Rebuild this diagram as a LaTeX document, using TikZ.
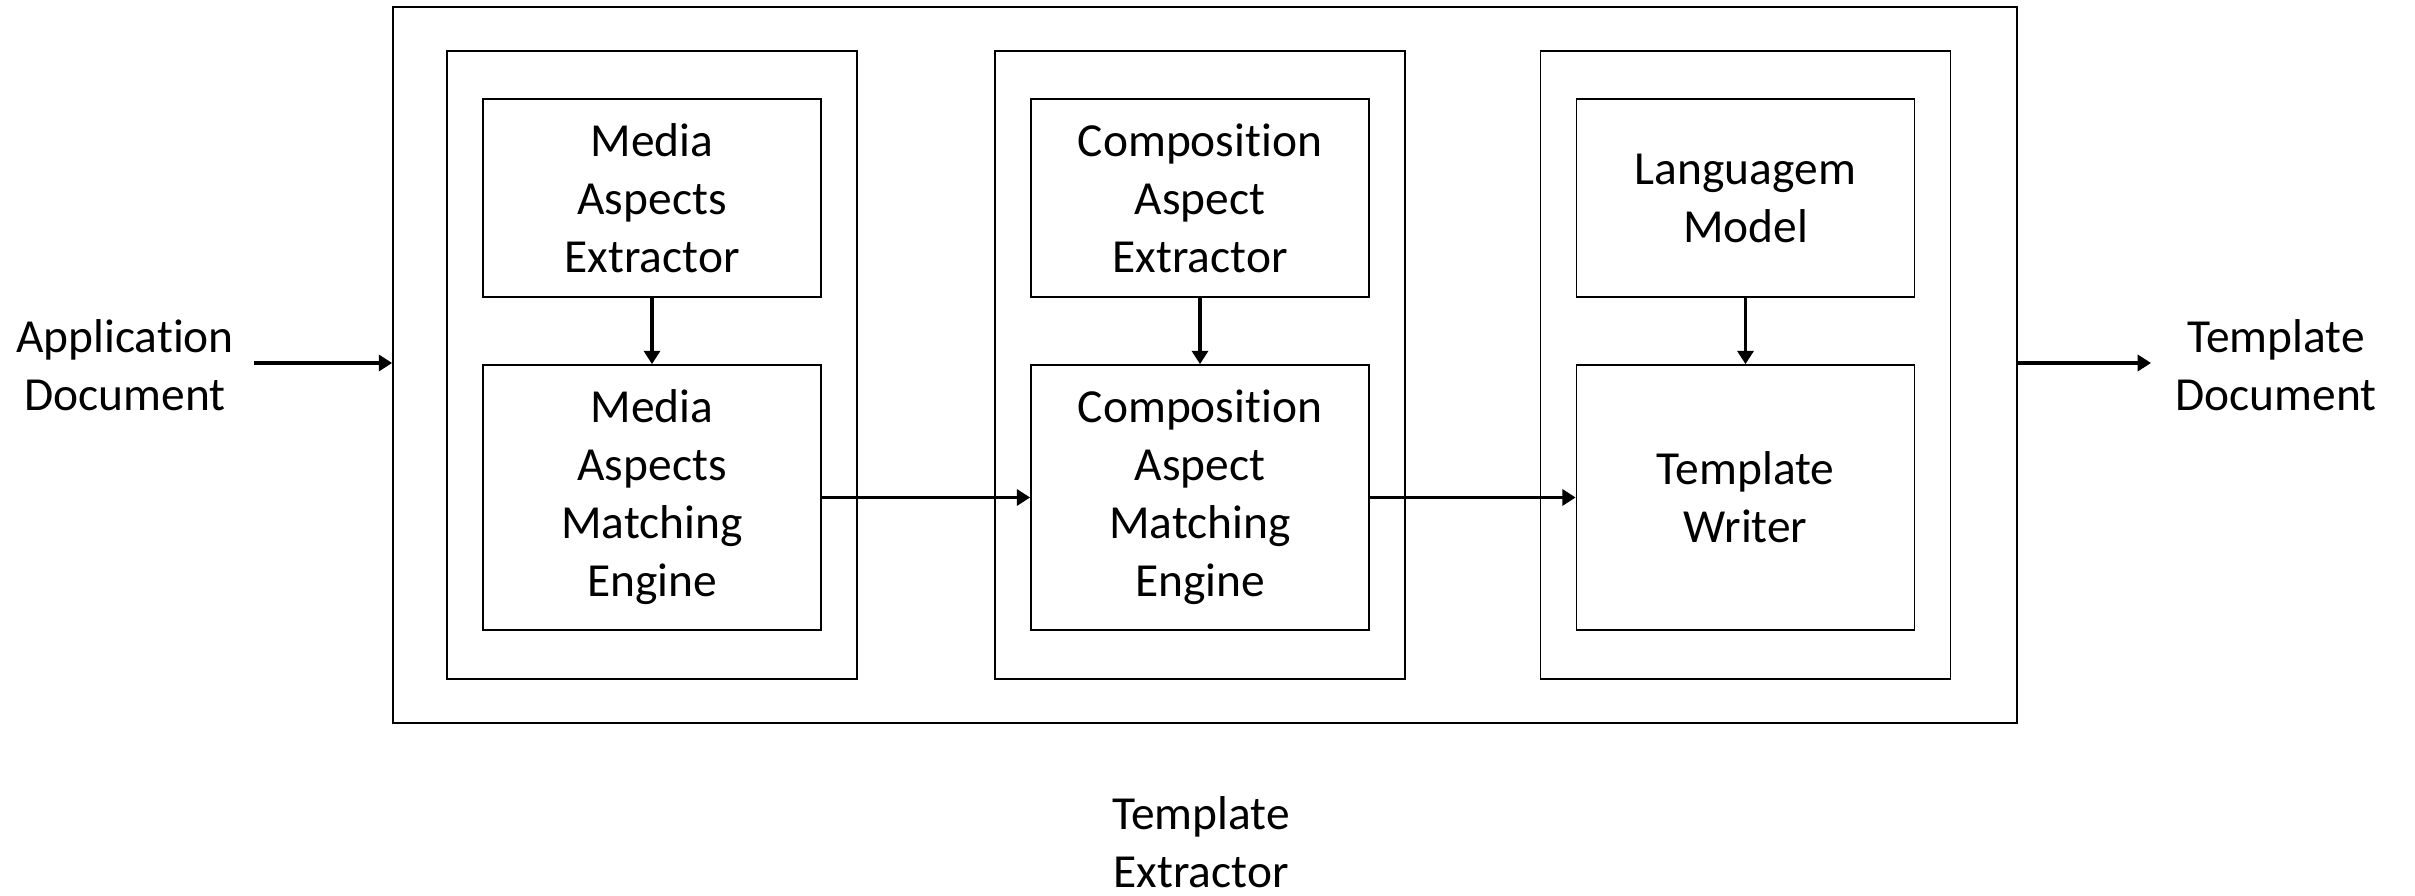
\documentclass[tikz,border=0pt]{standalone}
\usepackage{fontspec}
\setmainfont{Carlito}[Ligatures=NoCommon]
\usetikzlibrary{arrows.meta}

\tikzset{
  frame/.style={draw, line width=0.5pt, inner sep=0pt},
  topbox/.style={frame, minimum width=3.38cm, minimum height=1.98cm, align=center},
  botbox/.style={frame, minimum width=3.38cm, minimum height=2.65cm, align=center},
  colbox/.style={frame, minimum width=4.1cm, minimum height=6.28cm},
  flow/.style={line width=0.9pt, -{Triangle[length=3.8pt, width=4.6pt]}},
  label/.style={align=center, inner sep=0pt}
}

\begin{document}
\begin{tikzpicture}[x=1cm, y=1cm]
      \fontsize{13.5}{16.5}\selectfont

      \useasboundingbox (0,0) rectangle (24.15,-8.96);

      \node[frame, minimum width=16.24cm, minimum height=7.16cm] (extractor) at (12.05,-3.65) {};

      \node[colbox] (col1) at (6.52,-3.65) {};
      \node[colbox] (col2) at (12.00,-3.65) {};
      \node[colbox] (col3) at (17.455,-3.65) {};

      \node[topbox] (mediaext) at (6.52,-1.98) {Media\\Aspects\\Extractor};
      \node[botbox] (mediamatch) at (6.52,-4.975) {Media\\Aspects\\Matching\\Engine};

      \node[topbox] (compext) at (12.00,-1.98) {Composition\\Aspect\\Extractor};
      \node[botbox] (compmatch) at (12.00,-4.975) {Composition\\Aspect\\Matching\\Engine};

      \node[topbox] (langmodel) at (17.455,-1.98) {Languagem\\Model};
      \node[botbox] (writer) at (17.455,-4.975) {Template\\Writer};

      \node[label] (appdoc) at (1.25,-3.65) {Application\\Document};
      \node[label] (tpldoc) at (22.76,-3.65) {Template\\Document};
      \node[label] (tplext) at (12.01,-8.42) {Template\\Extractor};

      \coordinate (inbegin) at (2.54,-3.63);
      \coordinate (outend) at (21.51,-3.63);

      \draw[flow] (inbegin) -- (inbegin -| extractor.west);
      \draw[flow] (extractor.east |- outend) -- (outend);

      \draw[flow] (mediaext) -- (mediamatch);
      \draw[flow] (compext) -- (compmatch);
      \draw[flow] (langmodel) -- (writer);

      \draw[flow] (mediamatch) -- (compmatch);
      \draw[flow] (compmatch) -- (writer);

\end{tikzpicture}
\end{document}
